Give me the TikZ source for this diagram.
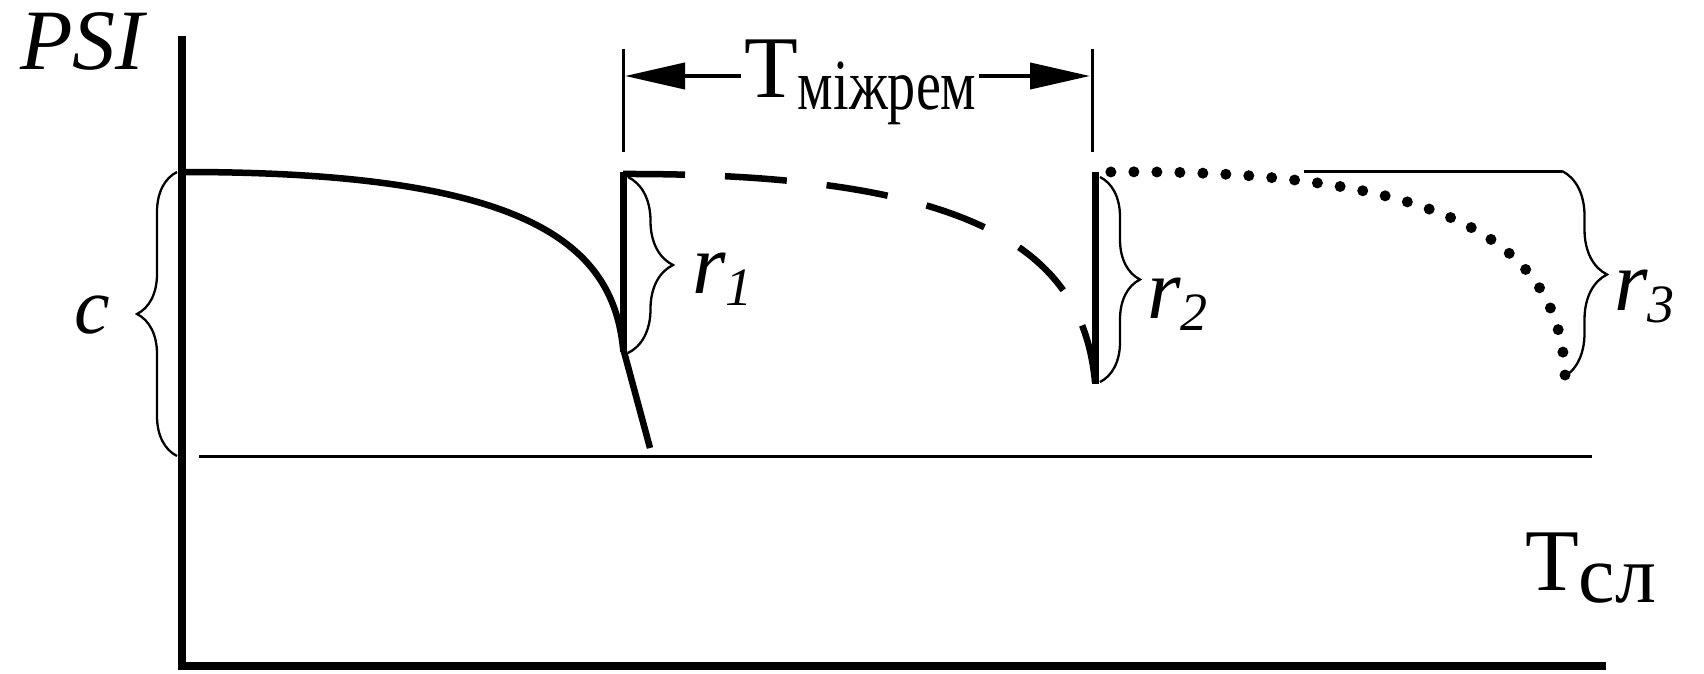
\documentclass[tikz,border=0pt]{standalone}
\usepackage{fontspec}
\setmainfont{Liberation Serif}[ItalicFont={Liberation Serif Italic},BoldFont={Liberation Serif Bold}]
\usepackage{graphicx}
\usetikzlibrary{arrows.meta,decorations.pathreplacing}
\newcommand\lsub[3]{\raisebox{-#1}{\fontsize{#2}{#2}\selectfont #3}}
\begin{document}
\begin{tikzpicture}[x=1pt,y=-1pt,
  axisline/.style={line width=8.5pt},
  curveline/.style={line width=6.5pt},
  dotline/.style={line width=11pt, line cap=round, dash pattern=on 0pt off 23pt},
  thinline/.style={line width=3pt},
  bracestyle/.style={decorate, decoration={brace, amplitude=#1}, line width=2.3pt},
  bracestyle/.default=42pt,
  dimarrow/.style={line width=4pt, -{Triangle[length=60pt,width=26pt]}},
  lbl/.style={inner sep=0pt, anchor=base west, font=\fontsize{88}{88}\selectfont},
  ilbl/.style={lbl, font=\fontsize{86}{86}\selectfont\itshape}]
\useasboundingbox (0,0) rectangle (1704,674);
% axes
\coordinate (ytop) at (182,36);
\coordinate (orig) at (182,666);
\coordinate (xend) at (1606,666);
\draw[axisline] (ytop) -- (orig) -- (xend);
% thin baseline
\coordinate (b0) at (199,456);
\coordinate (b1) at (1592,456);
\draw[thinline] (b0) -- (b1);
% solid curve
\coordinate (s0) at (184,172);
\coordinate (s1) at (623,348);
\coordinate (s2) at (650,448);
\draw[curveline] (s0) .. controls (520,172) and (612,240) .. (s1) -- (s2);
% first vertical
\coordinate (v1t) at (623,172);
\coordinate (v1b) at (623,352);
\draw[curveline, line width=7pt] (v1t) -- (v1b);
% dashed curve
\coordinate (d0) at (623,174);
\coordinate (d1) at (1095,382);
\draw[curveline, dash pattern=on 62pt off 40pt] (d0) .. controls (982,173) and (1083,254) .. (d1);
% second vertical
\coordinate (v2t) at (1095,172);
\coordinate (v2b) at (1095,384);
\draw[curveline, line width=7pt] (v2t) -- (v2b);
% dotted curve (drawn from its end so that a dot sits at the end)
\coordinate (p0) at (1108,172);
\coordinate (p1) at (1565,375);
\draw[dotline] (p1) .. controls (1560,245) and (1450,168) .. (p0);
% thin top line for r3
\coordinate (t0) at (1304,171);
\coordinate (t1) at (1562,171);
\draw[thinline] (t0) -- (t1);
% braces
\draw[bracestyle=40pt] (177,456) -- (177,172);
\draw[bracestyle=45pt] (628,177) -- (628,353);
\draw[bracestyle=40pt] (1100,177) -- (1100,382);
\draw[bracestyle=45pt] (t1) -- (1562,378);
% dimension
\coordinate (k1t) at (623,49);
\coordinate (k1b) at (623,152);
\coordinate (k2t) at (1092,49);
\coordinate (k2b) at (1092,152);
\draw[thinline] (k1t) -- (k1b);
\draw[thinline] (k2t) -- (k2b);
\node[lbl] (tm) at (744,98) {Т\lsub{12pt}{72}{\scalebox{0.78}[1]{міжрем}}};
\coordinate (dl) at (625,76);
\coordinate (dr) at (1090,76);
\path (tm.west |- dl) coordinate (al);
\path (tm.east |- dr) coordinate (ar);
\draw[dimarrow] ([xshift=-3pt]al) -- (dl);
\draw[dimarrow] ([xshift=2pt]ar) -- (dr);
% labels
\node[ilbl] (psi) at (20,70) {PSI};
\node[ilbl, font=\fontsize{80}{80}\selectfont\itshape] (c) at (74,333) {c};
\node[ilbl] (r1) at (692,293) {r\lsub{12pt}{54}{1}};
\node[ilbl] (r2) at (1147,318) {r\lsub{12pt}{54}{2}};
\node[ilbl] (r3) at (1614,310) {r\lsub{12pt}{54}{3}};
\node[lbl] (tsl) at (1525,590) {Т\lsub{12pt}{82}{сл}};
\end{tikzpicture}
\end{document}
